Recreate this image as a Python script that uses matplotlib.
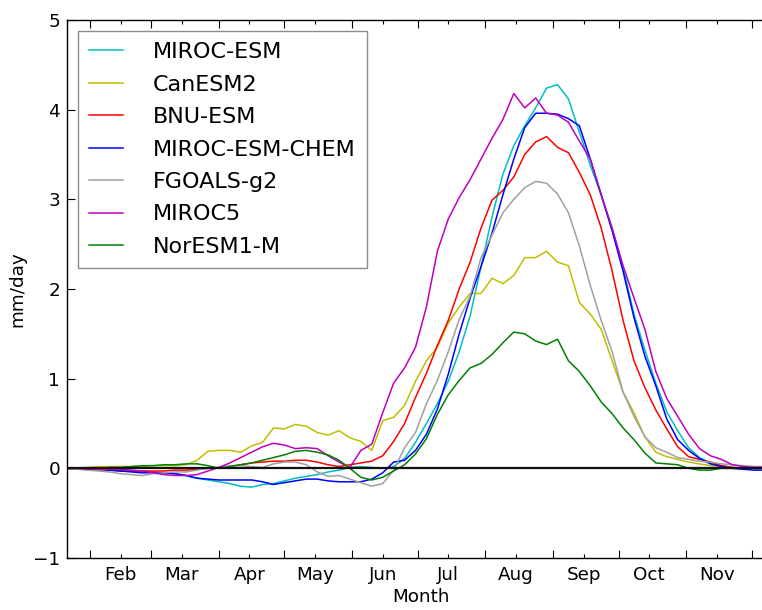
import matplotlib
matplotlib.use('Agg')
import matplotlib.pyplot as plt
from matplotlib.ticker import FixedLocator, NullFormatter, FixedFormatter, NullLocator

# ---- data (day of year, 5-day samples) ----
days = list(range(20, 346, 5))

miroc_esm = [0.0, 0.0, -0.01, -0.01, -0.02, -0.02, -0.03, -0.03, -0.04, -0.05,
             -0.06, -0.08, -0.11, -0.13, -0.15, -0.17, -0.2, -0.21, -0.18, -0.17,
             -0.14, -0.11, -0.09, -0.07, -0.04, -0.02, 0.01, 0.02, 0.01, 0.0,
             0.02, 0.11, 0.29, 0.5, 0.72, 0.97, 1.3, 1.7, 2.25, 2.8,
             3.28, 3.6, 3.82, 4.02, 4.24, 4.28, 4.12, 3.75, 3.38, 3.05,
             2.67, 2.24, 1.72, 1.32, 0.95, 0.63, 0.42, 0.23, 0.12, 0.06,
             0.03, 0.01, 0.0, 0.0, 0.0, 0.0]
canesm2 = [0.0, 0.0, 0.01, 0.02, 0.02, 0.02, 0.02, 0.02, 0.03, 0.03,
           0.03, 0.04, 0.09, 0.19, 0.2, 0.2, 0.18, 0.25, 0.29, 0.45,
           0.44, 0.49, 0.47, 0.4, 0.37, 0.42, 0.34, 0.3, 0.2, 0.53,
           0.57, 0.7, 0.97, 1.2, 1.35, 1.62, 1.8, 1.95, 1.95, 2.12,
           2.06, 2.15, 2.35, 2.35, 2.42, 2.3, 2.26, 1.85, 1.72, 1.55,
           1.2, 0.85, 0.62, 0.35, 0.18, 0.13, 0.1, 0.07, 0.05, 0.03,
           0.02, 0.01, 0.0, 0.0, 0.0, 0.0]
bnu_esm = [0.0, -0.01, -0.01, -0.02, -0.02, -0.03, -0.03, -0.03, -0.03, -0.03,
           -0.02, -0.02, -0.01, 0.0, 0.01, 0.02, 0.04, 0.06, 0.07, 0.08,
           0.08, 0.09, 0.09, 0.07, 0.04, 0.02, 0.04, 0.06, 0.08, 0.14,
           0.3, 0.5, 0.79, 1.06, 1.37, 1.65, 2.0, 2.3, 2.68, 2.99,
           3.1, 3.25, 3.5, 3.64, 3.7, 3.58, 3.52, 3.3, 3.05, 2.68,
           2.2, 1.65, 1.2, 0.9, 0.65, 0.44, 0.24, 0.13, 0.1, 0.07,
           0.03, 0.01, 0.0, 0.0, 0.0, 0.0]
miroc_esm_chem = [0.0, 0.0, -0.01, -0.01, -0.02, -0.03, -0.04, -0.05, -0.05, -0.05,
                  -0.06, -0.08, -0.11, -0.12, -0.13, -0.13, -0.13, -0.13, -0.15, -0.18,
                  -0.16, -0.14, -0.12, -0.12, -0.14, -0.15, -0.15, -0.15, -0.12, -0.05,
                  0.07, 0.09, 0.2, 0.38, 0.66, 1.05, 1.5, 1.9, 2.25, 2.62,
                  3.05, 3.45, 3.8, 3.96, 3.96, 3.95, 3.9, 3.82, 3.45, 3.05,
                  2.65, 2.2, 1.68, 1.25, 0.92, 0.55, 0.32, 0.2, 0.11, 0.05,
                  0.02, 0.0, -0.01, -0.02, -0.02, -0.02]
fgoals_g2 = [0.0, -0.01, -0.02, -0.03, -0.04, -0.06, -0.07, -0.08, -0.06, -0.05,
             -0.04, -0.04, -0.02, 0.0, 0.01, 0.03, 0.03, 0.02, 0.01, 0.05,
             0.07, 0.07, 0.04, -0.04, -0.09, -0.08, -0.12, -0.16, -0.2, -0.17,
             -0.02, 0.23, 0.4, 0.72, 0.98, 1.3, 1.66, 1.92, 2.35, 2.6,
             2.85, 3.0, 3.13, 3.2, 3.18, 3.06, 2.85, 2.48, 2.04, 1.65,
             1.3, 0.85, 0.58, 0.35, 0.23, 0.18, 0.12, 0.1, 0.08, 0.07,
             0.05, 0.04, 0.03, 0.02, 0.02, 0.01]
miroc5 = [0.0, 0.0, -0.01, -0.01, -0.01, -0.01, -0.02, -0.03, -0.05, -0.07,
          -0.08, -0.08, -0.07, -0.03, 0.01, 0.06, 0.12, 0.18, 0.24, 0.28,
          0.26, 0.22, 0.23, 0.22, 0.14, 0.07, 0.01, 0.2, 0.27, 0.62,
          0.95, 1.12, 1.35, 1.8, 2.42, 2.78, 3.02, 3.22, 3.45, 3.68,
          3.89, 4.18, 4.02, 4.13, 3.96, 3.94, 3.86, 3.65, 3.45, 3.05,
          2.68, 2.26, 1.9, 1.55, 1.08, 0.78, 0.58, 0.38, 0.22, 0.14,
          0.1, 0.04, 0.02, 0.01, 0.01, 0.0]
noresm1_m = [0.0, 0.0, 0.0, 0.0, 0.01, 0.01, 0.02, 0.03, 0.03, 0.04,
             0.04, 0.05, 0.05, 0.03, 0.0, 0.02, 0.04, 0.06, 0.09, 0.12,
             0.15, 0.19, 0.2, 0.18, 0.15, 0.09, 0.0, -0.1, -0.13, -0.1,
             -0.03, 0.04, 0.16, 0.33, 0.6, 0.82, 0.98, 1.12, 1.17, 1.27,
             1.4, 1.52, 1.5, 1.42, 1.38, 1.44, 1.2, 1.08, 0.92, 0.74,
             0.61, 0.45, 0.32, 0.17, 0.06, 0.05, 0.04, 0.0, -0.02, -0.02,
             0.0, 0.0, 0.0, 0.0, 0.0, 0.0]

model_names = ['MIROC-ESM', 'CanESM2', 'BNU-ESM', 'MIROC-ESM-CHEM',
               'FGOALS-g2', 'MIROC5', 'NorESM1-M']
model_values = [miroc_esm, canesm2, bnu_esm, miroc_esm_chem,
                fgoals_g2, miroc5, noresm1_m]
model_colors = [(0, 0.75, 0.75), (0.75, 0.75, 0), 'r', 'b',
                '#a0a0a0', (0.75, 0, 0.75), (0, 0.5, 0)]

month_starts = [31, 59, 90, 120, 151, 181, 212, 243, 273, 304, 334]
mid_months = [45, 73, 104, 134, 165, 195, 226, 257, 287, 318]
month_labels = ['Feb', 'Mar', 'Apr', 'May', 'Jun', 'Jul', 'Aug', 'Sep', 'Oct', 'Nov']

# ---- figure ----
plt.rcParams['font.family'] = ['DejaVu Sans']
plt.rcParams['font.size'] = 13.2

fig = plt.figure(figsize=(7.62, 6.10), dpi=100)
ax = fig.add_axes([67 / 762, 52 / 610, 709 / 762, 538 / 610])

for name, vals, col in zip(model_names, model_values, model_colors):
    ax.plot(days, vals, color=col, lw=1.1, label=name)

ax.axhline(0, color='#111111', lw=1.6, zorder=3)

ax.set_xlim(20.5, 345)
ax.set_ylim(-1, 5)

ax.xaxis.set_major_locator(FixedLocator(month_starts))
ax.xaxis.set_major_formatter(NullFormatter())
ax.xaxis.set_minor_locator(FixedLocator(mid_months))
ax.xaxis.set_minor_formatter(FixedFormatter(month_labels))
ax.yaxis.set_major_locator(FixedLocator([-1, 0, 1, 2, 3, 4, 5]))
ax.yaxis.set_minor_locator(NullLocator())

ax.tick_params(which='both', direction='in', top=True, right=True, width=0.8)
ax.tick_params(which='major', length=5.5)
ax.tick_params(which='minor', length=3)
ax.tick_params(axis='x', which='minor', pad=6)
ax.tick_params(axis='y', which='major', pad=5)

for sp in ax.spines.values():
    sp.set_linewidth(1.0)

ax.set_xlabel('Month', labelpad=3)
ax.set_ylabel('mm/day', labelpad=5)

leg = ax.legend(loc='upper left', fontsize=16, handlelength=1.5, handletextpad=1.38,
                labelspacing=0.56, borderpad=0.5, borderaxespad=0.5,
                fancybox=False, framealpha=1)
leg.get_frame().set_edgecolor('0.55')
leg.get_frame().set_linewidth(1.0)

fig.savefig('out.png', dpi=100)
